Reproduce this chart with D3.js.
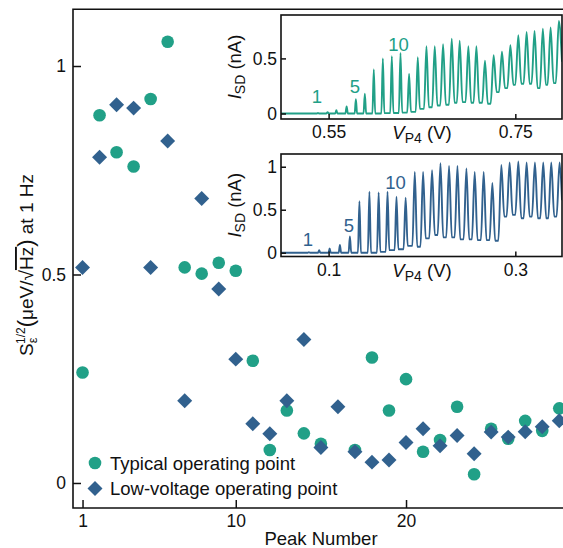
<!DOCTYPE html>
<html>
<head>
<meta charset="utf-8">
<script src="https://cdn.jsdelivr.net/npm/d3@7"></script>
<style>
  body { margin: 0; background: #fff; }
  svg { display: block; font-family: "Liberation Sans", Arial, sans-serif; }
</style>
</head>
<body>
<svg id="chart" width="563" height="548"></svg>
<script>
// main panel: noise per Coulomb peak
const peakNumbers = d3.range(1, 30);
const typicalNoise = [0.265, 0.882, 0.793, 0.759, 0.921, 1.058, 0.517, 0.502, 0.528, 0.509,
  0.293, 0.079, 0.174, 0.119, 0.094, null, 0.079, 0.301, 0.174, 0.249,
  0.075, 0.103, 0.183, 0.021, 0.130, 0.106, 0.149, 0.125, 0.179];
const lowVoltageNoise = [0.517, 0.781, 0.907, 0.899, 0.517, 0.820, 0.197, 0.682, 0.465, 0.297,
  0.142, 0.118, 0.197, 0.344, 0.085, 0.183, 0.075, 0.050, 0.055, 0.097,
  0.130, 0.089, 0.114, 0.070, 0.122, 0.110, 0.123, 0.135, 0.149];
const xTicks = [1, 10, 20];
const yTicks = [0, 0.5, 1];

// inset 1 (typical operating point): peak positions (V), heights (nA),
// base half-widths (V), valley levels (start, between peaks, end)
const typPeakV = [0.5386, 0.5489, 0.5583, 0.5693, 0.5792, 0.5888, 0.5984, 0.6081, 0.6177, 0.6270,
  0.6362, 0.6455, 0.6548, 0.6637, 0.6726, 0.6819, 0.6904, 0.6997, 0.7083, 0.7175,
  0.7268, 0.7357, 0.7447, 0.7532, 0.7621, 0.7706, 0.7795, 0.7878, 0.7966];
const typPeakI = [0.005, 0.012, 0.03, 0.065, 0.13, 0.18, 0.40, 0.50, 0.52, 0.55,
  0.36, 0.51, 0.61, 0.61, 0.63, 0.68, 0.66, 0.61, 0.61, 0.48,
  0.53, 0.56, 0.62, 0.71, 0.74, 0.75, 0.77, 0.78, 0.84];
const typPeakW = [0.0012, 0.0012, 0.0012, 0.0013, 0.0013, 0.0014, 0.0015, 0.0016, 0.0017, 0.0018,
  0.002, 0.0022, 0.0026, 0.0028, 0.003, 0.003, 0.003, 0.003, 0.003, 0.003,
  0.0032, 0.0032, 0.0032, 0.0032, 0.0032, 0.0032, 0.0032, 0.0032, 0.0032];
const typValleyI = [0, 0, 0, 0, 0, 0, 0, 0, 0.003, 0.005, 0.008, 0.015, 0.042, 0.057, 0.073,
  0.079, 0.097, 0.103, 0.097, 0.097, 0.088, 0.194, 0.23, 0.26, 0.27, 0.27, 0.23, 0.26, 0.276, 0.47];
const typVTicks = [0.55, 0.75];
const typITicks = [0, 0.5];

// inset 2 (low-voltage operating point)
const lowPeakV = [0.0789, 0.0899, 0.1011, 0.1121, 0.1228, 0.1330, 0.1437, 0.1536, 0.1631, 0.1727,
  0.1825, 0.1923, 0.2012, 0.2108, 0.2198, 0.2290, 0.2380, 0.2476, 0.2565, 0.2661,
  0.2754, 0.2850, 0.2939, 0.3032, 0.3121, 0.3210, 0.3299, 0.3385, 0.3474];
const lowPeakI = [0.005, 0.03, 0.05, 0.09, 0.19, 0.60, 0.71, 0.70, 0.71, 0.65,
  0.64, 0.94, 0.94, 0.96, 1.04, 1.01, 1.01, 0.98, 0.94, 0.94,
  0.81, 1.02, 1.05, 1.06, 1.05, 1.05, 1.05, 1.05, 1.05];
const lowPeakW = [0.0012, 0.0012, 0.0012, 0.0013, 0.0014, 0.0016, 0.0017, 0.0018, 0.0019, 0.002,
  0.0022, 0.0026, 0.0028, 0.003, 0.003, 0.003, 0.003, 0.003, 0.003, 0.003,
  0.003, 0.0032, 0.0032, 0.0032, 0.0032, 0.0032, 0.0032, 0.0032, 0.0032];
const lowValleyI = [0, 0, 0, 0, 0, 0, 0, 0, 0.01, 0.03, 0.04, 0.08, 0.07, 0.167, 0.206,
  0.178, 0.178, 0.155, 0.155, 0.147, 0.147, 0.14, 0.42, 0.44, 0.40, 0.42, 0.40, 0.40, 0.42, 0.61];
const lowVTicks = [0.1, 0.3];
const lowITicks = [0, 0.5, 1];

const labelPeaks = [1, 5, 10];

const GREEN = "#21a087";
const BLUE = "#31618e";
const INK = "#111";
const TICK_FONT = 17.5;
const LABEL_FONT = 18.5;

const svg = d3.select("#chart");

function styleAxis(g) {
  g.select(".domain").remove();
  g.selectAll(".tick line").attr("stroke", INK).attr("stroke-width", 1.5);
  g.selectAll(".tick text").attr("fill", INK).attr("font-size", TICK_FONT);
}

// ---------- main panel ----------
const x = d3.scaleLinear().domain([0.44, 29.22]).range([73, 563]);
const y = d3.scaleLinear().domain([-0.06, 1.136]).range([508, 9.3]);

svg.append("g")
  .attr("transform", `translate(0,${y.range()[0]})`)
  .call(d3.axisBottom(x).tickValues(xTicks).tickFormat(d3.format("d"))
    .tickSizeInner(-8).tickSizeOuter(0).tickPadding(7))
  .call(styleAxis);

svg.append("g")
  .attr("transform", `translate(${x.range()[0]},0)`)
  .call(d3.axisLeft(y).tickValues(yTicks).tickFormat(d3.format("~g"))
    .tickSizeInner(-8).tickSizeOuter(0).tickPadding(7))
  .call(styleAxis);

// spines: left, bottom, top
const spines = svg.append("g").attr("stroke", INK).attr("stroke-width", 1.6).attr("fill", "none");
spines.append("path")
  .attr("d", `M${x.range()[1]},${y.range()[1]}H${x.range()[0]}V${y.range()[0]}H${x.range()[1]}`);

const typicalPts = peakNumbers.map((n, i) => ({ n, v: typicalNoise[i] })).filter((d) => d.v != null);
const lowPts = peakNumbers.map((n, i) => ({ n, v: lowVoltageNoise[i] }));

svg.append("g")
  .selectAll("circle")
  .data(typicalPts)
  .join("circle")
  .attr("cx", (d) => x(d.n))
  .attr("cy", (d) => y(d.v))
  .attr("r", 6.3)
  .attr("fill", GREEN);

const diamond = d3.symbol(d3.symbolSquare, 112);
svg.append("g")
  .selectAll("path")
  .data(lowPts)
  .join("path")
  .attr("d", diamond)
  .attr("transform", (d) => `translate(${x(d.n)},${y(d.v)}) rotate(45)`)
  .attr("fill", BLUE);

// axis titles
svg.append("text")
  .attr("x", 321).attr("y", 545)
  .attr("text-anchor", "middle")
  .attr("font-size", LABEL_FONT).attr("fill", INK)
  .text("Peak Number");

const ylab = svg.append("text")
  .attr("transform", "translate(33,265) rotate(-90)")
  .attr("text-anchor", "middle")
  .attr("font-size", 19).attr("fill", INK);
ylab.append("tspan").text("S");
ylab.append("tspan").attr("dy", 4).attr("font-size", 13).text("ε");
ylab.append("tspan").attr("dx", -6.5).attr("dy", -12).attr("font-size", 12).text("1/2");
ylab.append("tspan").attr("dy", 8).attr("font-size", 22).attr("font-weight", 300).text("(");
ylab.append("tspan").text("μeV/√");
ylab.append("tspan").attr("text-decoration", "overline").text("Hz");
ylab.append("tspan").attr("font-size", 22).text(")");
ylab.append("tspan").text(" at 1 Hz");

// legend
const legend = svg.append("g").attr("font-size", LABEL_FONT).attr("fill", INK);
legend.append("circle").attr("cx", 95).attr("cy", 463).attr("r", 6.3).attr("fill", GREEN);
legend.append("path").attr("d", diamond).attr("transform", "translate(95,488.5) rotate(45)").attr("fill", BLUE);
legend.append("text").attr("x", 110).attr("y", 469.5).text("Typical operating point");
legend.append("text").attr("x", 110).attr("y", 495).text("Low-voltage operating point");

// ---------- insets ----------
function traceVertices(pos, height, width, valley, xDomain) {
  const pts = [[xDomain[0], valley[0]]];
  pos.forEach((p, i) => {
    pts.push([p - width[i], valley[i]]);
    pts.push([p, height[i]]);
    if (i < pos.length - 1) pts.push([p + width[i], valley[i + 1]]);
  });
  pts.push([xDomain[1], valley[pos.length]]);
  return pts;
}

function drawInset(cfg) {
  const ix = d3.scaleLinear().domain(cfg.xDomain).range([281, 562]);
  const iy = d3.scaleLinear().domain(cfg.yDomain).range([cfg.bottom, cfg.top]);
  const g = svg.append("g");

  g.append("rect")
    .attr("x", 281).attr("y", cfg.top)
    .attr("width", 281).attr("height", cfg.bottom - cfg.top)
    .attr("fill", "#fff");

  g.append("clipPath").attr("id", cfg.id)
    .append("rect")
    .attr("x", 281).attr("y", cfg.top)
    .attr("width", 281).attr("height", cfg.bottom - cfg.top);

  const line = d3.line()
    .x((d) => ix(d[0]))
    .y((d) => iy(d[1]))
    .curve(d3.curveMonotoneX);

  g.append("path")
    .datum(traceVertices(cfg.peakV, cfg.peakI, cfg.peakW, cfg.valley, cfg.xDomain))
    .attr("clip-path", `url(#${cfg.id})`)
    .attr("d", line)
    .attr("fill", "none")
    .attr("stroke", cfg.color)
    .attr("stroke-width", 1.9)
    .attr("stroke-linejoin", "round");

  g.append("g")
    .attr("transform", `translate(0,${cfg.bottom})`)
    .call(d3.axisBottom(ix).tickValues(cfg.xTicks).tickFormat(d3.format("~g"))
      .tickSizeInner(-5).tickSizeOuter(0).tickPadding(7))
    .call(styleAxis);

  g.append("g")
    .attr("transform", "translate(281,0)")
    .call(d3.axisLeft(iy).tickValues(cfg.yTicks).tickFormat(d3.format("~g"))
      .tickSizeInner(-5).tickSizeOuter(0).tickPadding(4))
    .call(styleAxis);

  g.append("rect")
    .attr("x", 281).attr("y", cfg.top)
    .attr("width", 281).attr("height", cfg.bottom - cfg.top)
    .attr("fill", "none").attr("stroke", INK).attr("stroke-width", 1.6);

  // peak number labels
  g.append("g")
    .selectAll("text")
    .data(labelPeaks)
    .join("text")
    .attr("x", (d, i) => ix(cfg.peakV[d - 1]) + cfg.labelDx[i])
    .attr("y", (d, i) => cfg.labelY[i])
    .attr("text-anchor", "middle")
    .attr("font-size", LABEL_FONT)
    .attr("fill", cfg.color)
    .text((d) => d);

  const xl = g.append("text")
    .attr("x", 422).attr("y", cfg.bottom + 20)
    .attr("text-anchor", "middle")
    .attr("font-size", LABEL_FONT).attr("fill", INK);
  xl.append("tspan").attr("font-style", "italic").text("V");
  xl.append("tspan").attr("dy", 4).attr("font-size", 14).text("P4");
  xl.append("tspan").attr("dy", -4).text(" (V)");

  const yl = g.append("text")
    .attr("transform", `translate(241,${(cfg.top + cfg.bottom) / 2}) rotate(-90)`)
    .attr("text-anchor", "middle")
    .attr("font-size", LABEL_FONT).attr("fill", INK);
  yl.append("tspan").attr("font-style", "italic").text("I");
  yl.append("tspan").attr("dy", 4).attr("font-size", 14).text("SD");
  yl.append("tspan").attr("dy", -4).text(" (nA)");
}

drawInset({
  id: "clip-typ",
  top: 15, bottom: 119,
  xDomain: [0.499, 0.800], yDomain: [-0.05, 0.894],
  peakV: typPeakV, peakI: typPeakI, peakW: typPeakW, valley: typValleyI,
  xTicks: typVTicks, yTicks: typITicks,
  color: GREEN,
  labelDx: [-1, -1, -2],
  labelY: [103, 92.5, 50.5],
});

drawInset({
  id: "clip-low",
  top: 154, bottom: 256.5,
  xDomain: [0.049, 0.350], yDomain: [-0.044, 1.148],
  peakV: lowPeakV, peakI: lowPeakI, peakW: lowPeakW, valley: lowValleyI,
  xTicks: lowVTicks, yTicks: lowITicks,
  color: BLUE,
  labelDx: [-1, -1, -1],
  labelY: [246, 231.5, 188.5],
});
</script>
</body>
</html>
